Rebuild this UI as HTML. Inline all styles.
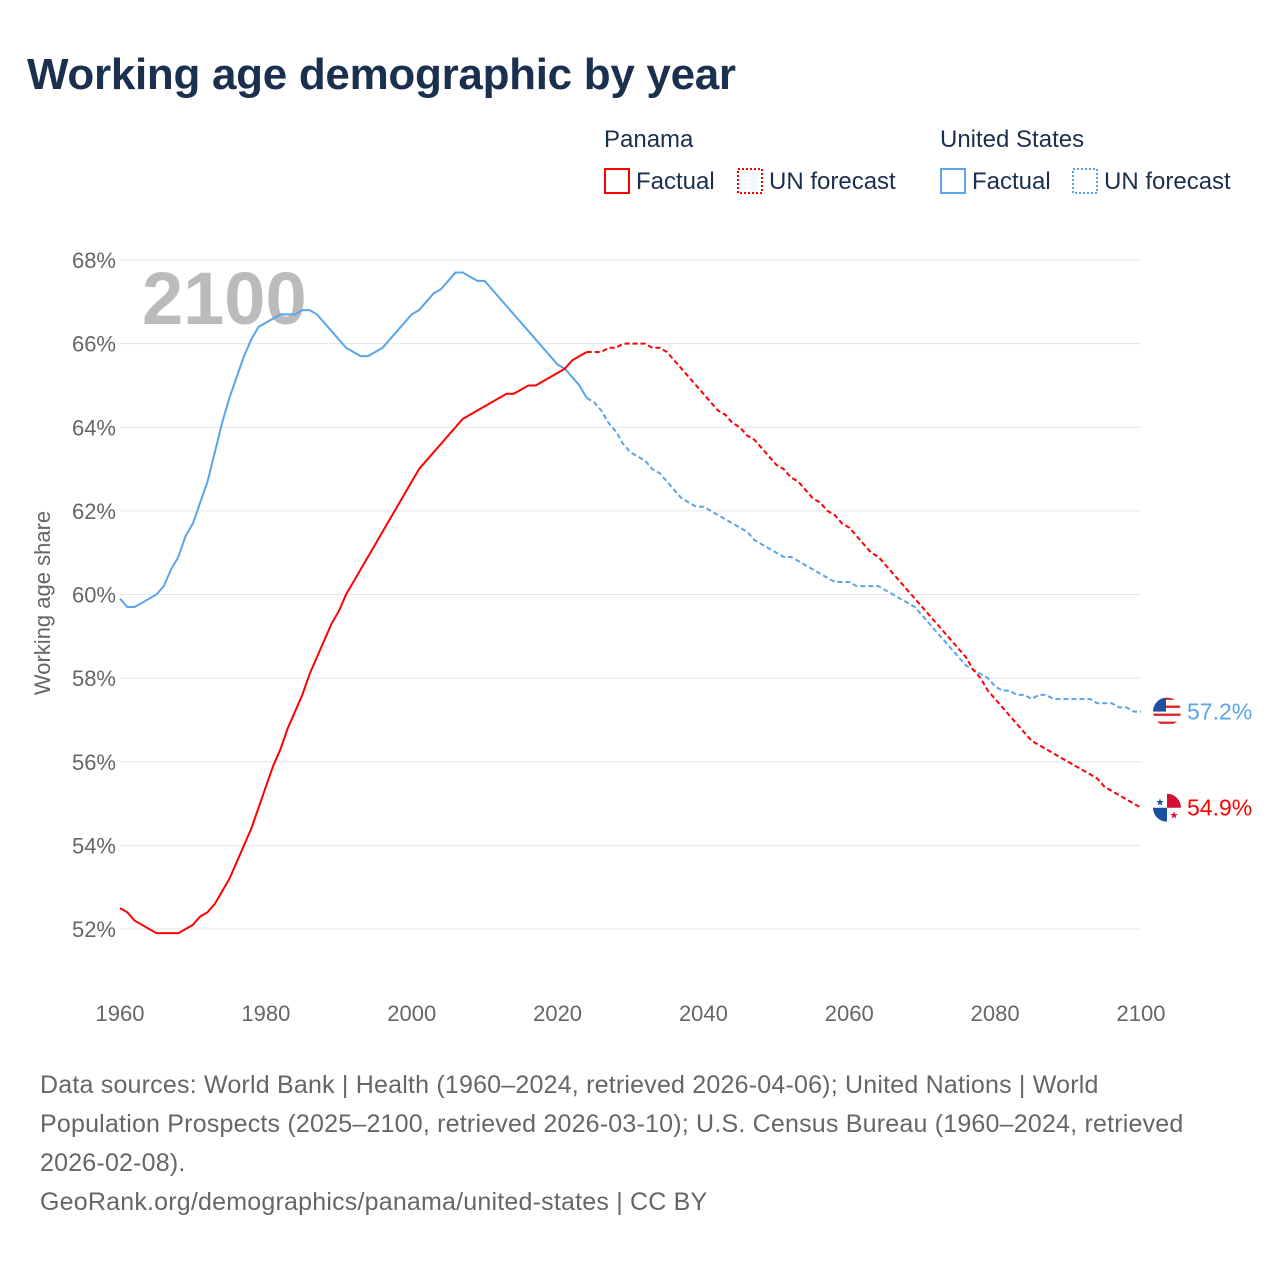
<!DOCTYPE html>
<html><head><meta charset="utf-8"><style>
body{margin:0;background:#fff;font-family:"Liberation Sans",sans-serif;}
#wrap{position:relative;width:1280px;height:1280px;overflow:hidden;}
h1{position:absolute;left:27px;top:50px;margin:0;font-size:44px;font-weight:bold;color:#1b2f4e;letter-spacing:-0.3px}
.src{position:absolute;left:40px;top:1066px;width:1230px;font-size:25px;line-height:39px;color:#666;letter-spacing:0.2px;white-space:nowrap}
</style></head><body>
<div id="wrap">
<h1>Working age demographic by year</h1>
<svg id="chart" width="1280" height="1280" style="position:absolute;left:0;top:0"></svg>
<div class="src">Data sources: World Bank | Health (1960–2024, retrieved 2026-04-06); United Nations | World<br>Population Prospects (2025–2100, retrieved 2026-03-10); U.S. Census Bureau (1960–2024, retrieved<br>2026-02-08).<br>GeoRank.org/demographics/panama/united-states | CC BY</div>
</div>
<script>
const startYear = 1960;
const forecastStart = 2024;
const yTicks = [52,54,56,58,60,62,64,66,68];
const xTicks = [1960,1980,2000,2020,2040,2060,2080,2100];
const panama = [52.5,52.4,52.2,52.1,52.0,51.9,51.9,51.9,51.9,52.0,52.1,52.3,52.4,52.6,52.9,53.2,53.6,54.0,54.4,54.9,55.4,55.9,56.3,56.8,57.2,57.6,58.1,58.5,58.9,59.3,59.6,60.0,60.3,60.6,60.9,61.2,61.5,61.8,62.1,62.4,62.7,63.0,63.2,63.4,63.6,63.8,64.0,64.2,64.3,64.4,64.5,64.6,64.7,64.8,64.8,64.9,65.0,65.0,65.1,65.2,65.3,65.4,65.6,65.7,65.8,
65.8,65.8,65.9,65.9,66.0,66.0,66.0,66.0,65.9,65.9,65.8,65.6,65.4,65.2,65.0,64.8,64.6,64.4,64.3,64.1,64.0,63.8,63.7,63.5,63.3,63.1,63.0,62.8,62.7,62.5,62.3,62.2,62.0,61.9,61.7,61.6,61.4,61.2,61.0,60.9,60.7,60.5,60.3,60.1,59.9,59.7,59.5,59.3,59.1,58.9,58.7,58.5,58.2,58.0,57.7,57.5,57.3,57.1,56.9,56.7,56.5,56.4,56.3,56.2,56.1,56.0,55.9,55.8,55.7,55.6,55.4,55.3,55.2,55.1,55.0,54.9];
const usa = [59.9,59.7,59.7,59.8,59.9,60.0,60.2,60.6,60.9,61.4,61.7,62.2,62.7,63.4,64.1,64.7,65.2,65.7,66.1,66.4,66.5,66.6,66.7,66.7,66.7,66.8,66.8,66.7,66.5,66.3,66.1,65.9,65.8,65.7,65.7,65.8,65.9,66.1,66.3,66.5,66.7,66.8,67.0,67.2,67.3,67.5,67.7,67.7,67.6,67.5,67.5,67.3,67.1,66.9,66.7,66.5,66.3,66.1,65.9,65.7,65.5,65.4,65.2,65.0,64.7,
64.6,64.4,64.1,63.9,63.6,63.4,63.3,63.2,63.0,62.9,62.7,62.5,62.3,62.2,62.1,62.1,62.0,61.9,61.8,61.7,61.6,61.5,61.3,61.2,61.1,61.0,60.9,60.9,60.8,60.7,60.6,60.5,60.4,60.3,60.3,60.3,60.2,60.2,60.2,60.2,60.1,60.0,59.9,59.8,59.7,59.5,59.3,59.1,58.9,58.7,58.5,58.3,58.2,58.1,58.0,57.8,57.7,57.7,57.6,57.6,57.5,57.6,57.6,57.5,57.5,57.5,57.5,57.5,57.5,57.4,57.4,57.4,57.3,57.3,57.2,57.2];
const svg=document.getElementById('chart');const NS='http://www.w3.org/2000/svg';
const X=y=>120+(y-1960)*(1021/140);
const Y=v=>260+(68-v)*(669/16);
function mk(t,a,txt){const e=document.createElementNS(NS,t);for(const k in a)e.setAttribute(k,a[k]);if(txt!==undefined)e.textContent=txt;svg.appendChild(e);return e;}
yTicks.forEach(v=>{
 const g=mk('line',{x1:120,x2:1141,y1:Y(v),y2:Y(v),stroke:'#e6e6e6','stroke-width':1});
 
 
 const t=mk('text',{x:116,y:Y(v)+8,'text-anchor':'end','font-size':22,fill:'#666'},v+'%');
 
 
});
xTicks.forEach(v=>{
 const t=mk('text',{x:X(v),y:1021,'text-anchor':'middle','font-size':22,fill:'#666'},v);
 
 
});
const yt=mk('text',{x:50,y:603,'text-anchor':'middle','font-size':22,fill:'#666',transform:'rotate(-90 50 603)'},'Working age share');


const yr=mk('text',{x:142,y:324,'font-size':74,'font-weight':'bold',fill:'#bbb'},'2100');


function series(arr,color,name){
 const idx=forecastStart-startYear;
 const f=arr.slice(0,idx+1).map((v,i)=>X(startYear+i)+','+Y(v)).join(' ');
 const p=arr.slice(idx).map((v,i)=>X(forecastStart+i)+','+Y(v)).join(' ');
 const a=mk('polyline',{points:f,fill:'none',stroke:color,'stroke-width':2});
 
 
 const b=mk('polyline',{points:p,fill:'none',stroke:color,'stroke-width':2,'stroke-dasharray':'5,3'});
 
 
}
series(usa,'#5aa5ea','usa');
series(panama,'#ff0000','panama');
function endLabel(arr,color,name,flag){
 const v=arr[arr.length-1];const cy=Y(v);
 const g=document.createElementNS(NS,'g');svg.appendChild(g);
 
 
 g.innerHTML=flag(1167,cy);
 const t=mk('text',{x:1187,y:cy+8,'font-size':23,fill:color},v.toFixed(1)+'%');
 
 
}
endLabel(usa,'#5aa5ea','usa',(x,y)=>`<clipPath id="cu"><circle cx="${x}" cy="${y}" r="14"/></clipPath><g clip-path="url(#cu)"><rect x="${x-14}" y="${y-14}" width="28" height="28" fill="#fff"/>${[0,2,4,6].map(i=>`<rect x="${x-14}" y="${y-14+i*4}" width="28" height="2.3" fill="#d22"/>`).join('')}<rect x="${x-14}" y="${y-14}" width="13" height="14" fill="#1f4fa0"/></g>`);
endLabel(panama,'#ff0000','panama',(x,y)=>`<clipPath id="cp"><circle cx="${x}" cy="${y}" r="14"/></clipPath><g clip-path="url(#cp)"><rect x="${x-14}" y="${y-14}" width="28" height="28" fill="#fff"/><rect x="${x}" y="${y-14}" width="14" height="14" fill="#d21034"/><rect x="${x-14}" y="${y}" width="14" height="14" fill="#1b4fa0"/><text x="${x-7}" y="${y-2}" font-size="10" fill="#1b4fa0" text-anchor="middle">★</text><text x="${x+7}" y="${y+11}" font-size="10" fill="#d21034" text-anchor="middle">★</text></g>`);
function legText(x,y,s,name){const t=mk('text',{x:x,y:y,'font-size':24,fill:'#1b2f4e'},s);}
legText(604,147,'Panama','legend-title-panama');
legText(940,147,'United States','legend-title-usa');
function legEntry(x,color,dash,label,name){
 const r=mk('rect',{x:x,y:169,width:24,height:24,fill:'none',stroke:color,'stroke-width':2,'stroke-dasharray':dash?'2,2':'none'});
 
 
 legText(x+31,189,label,name);
}
legEntry(605,'#ff0000',false,'Factual','legend-panama-factual');
legEntry(738,'#ff0000',true,'UN forecast','legend-panama-forecast');
legEntry(941,'#5aa5ea',false,'Factual','legend-usa-factual');
legEntry(1073,'#5aa5ea',true,'UN forecast','legend-usa-forecast');
</script>
</body></html>
